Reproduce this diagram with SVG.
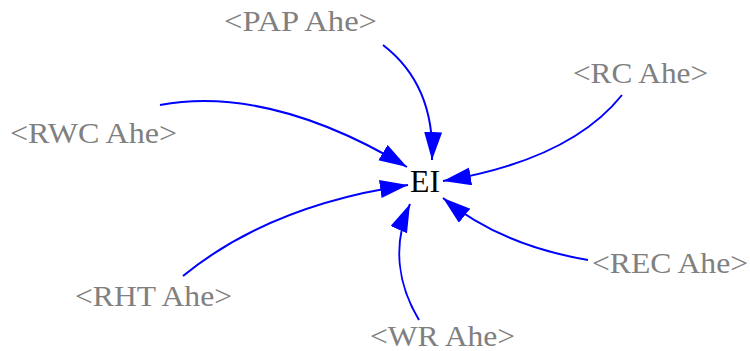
<svg xmlns="http://www.w3.org/2000/svg" width="750" height="351" viewBox="0 0 750 351">
  <style>
    .shadow { font-family: "Liberation Serif", "Times New Roman", serif; font-size: 29.5px; fill: #808080; }
    .var { font-family: "Liberation Serif", "Times New Roman", serif; font-size: 31px; fill: #000000; }
    .link { fill: none; stroke: #0000ff; stroke-width: 2; marker-end: url(#head); }
  </style>
  <defs>
    <marker id="head" markerUnits="userSpaceOnUse" markerWidth="30" markerHeight="20" refX="28" refY="9" orient="auto">
      <path d="M0,0 L28,9 L0,18 Z" fill="#0000ff"/>
    </marker>
  </defs>
  <rect width="750" height="351" fill="#ffffff"/>

  <g id="connectors">
    <path class="link" d="M383,45 Q435,85 432,160"/>
    <path class="link" d="M622,95 Q570,160 443,181"/>
    <path class="link" d="M160,105 Q270,85 407,167"/>
    <path class="link" d="M183,276 Q270,205 408,185"/>
    <path class="link" d="M419,320 C398,285 392,245 410,204"/>
    <path class="link" d="M588,260 Q500,245 443,198"/>
  </g>

  <g id="EI"><text class="var" x="410" y="192" textLength="30" lengthAdjust="spacingAndGlyphs">EI</text></g>
  <g id="PAP_Ahe"><text class="shadow" x="224" y="31" textLength="153" lengthAdjust="spacingAndGlyphs">&lt;PAP Ahe&gt;</text></g>
  <g id="RC_Ahe"><text class="shadow" x="573" y="83" textLength="135" lengthAdjust="spacingAndGlyphs">&lt;RC Ahe&gt;</text></g>
  <g id="RWC_Ahe"><text class="shadow" x="10" y="143" textLength="167" lengthAdjust="spacingAndGlyphs">&lt;RWC Ahe&gt;</text></g>
  <g id="REC_Ahe"><text class="shadow" x="592" y="273" textLength="156" lengthAdjust="spacingAndGlyphs">&lt;REC Ahe&gt;</text></g>
  <g id="RHT_Ahe"><text class="shadow" x="75" y="306" textLength="157" lengthAdjust="spacingAndGlyphs">&lt;RHT Ahe&gt;</text></g>
  <g id="WR_Ahe"><text class="shadow" x="370" y="346" textLength="145" lengthAdjust="spacingAndGlyphs">&lt;WR Ahe&gt;</text></g>
</svg>
